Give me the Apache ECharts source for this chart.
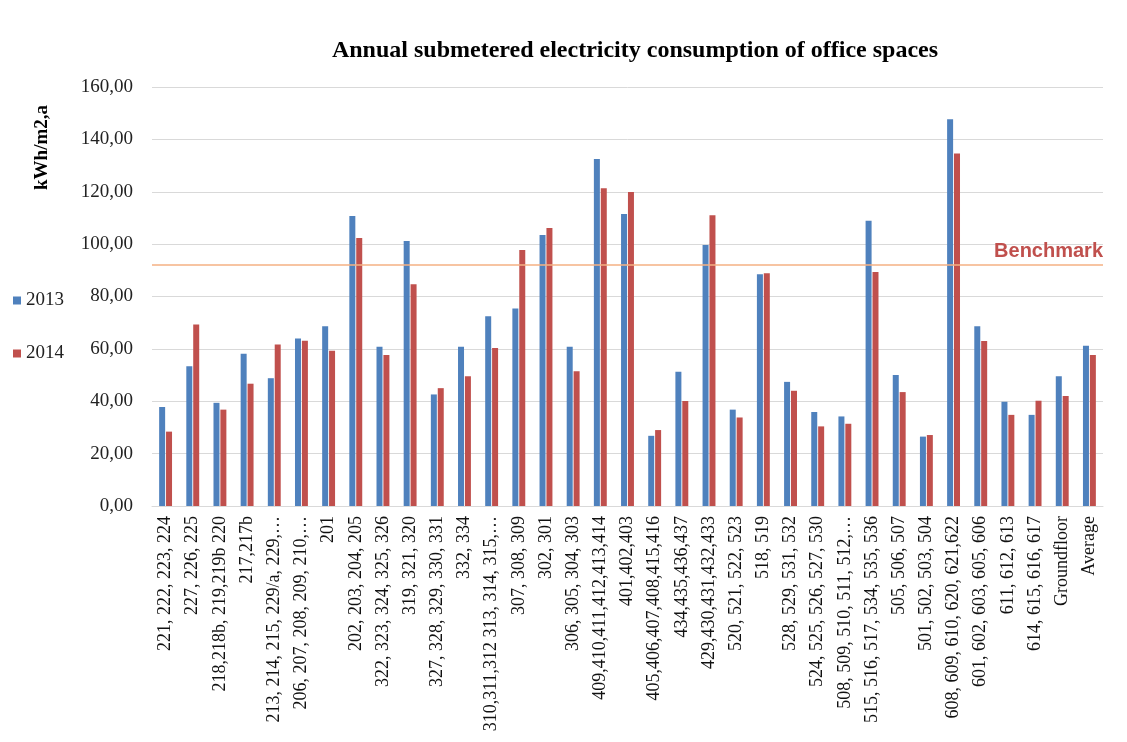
<!DOCTYPE html>
<html>
<head>
<meta charset="utf-8">
<script src="https://cdn.jsdelivr.net/npm/echarts@6/dist/echarts.min.js"></script>
<style>html,body{margin:0;padding:0;background:#fff;}#c{width:1127px;height:742px;}</style>
</head>
<body>
<div id="c"></div>
<script>
const categories = [
  "221, 222, 223, 224",
  "227, 226, 225",
  "218,218b, 219,219b 220",
  "217,217b",
  "213, 214, 215, 229/a, 229,…",
  "206, 207, 208, 209, 210,…",
  "201",
  "202, 203, 204, 205",
  "322, 323, 324, 325, 326",
  "319, 321, 320",
  "327, 328, 329, 330, 331",
  "332, 334",
  "310,311,312 313, 314, 315,…",
  "307, 308, 309",
  "302, 301",
  "306, 305, 304, 303",
  "409,410,411,412,413,414",
  "401,402,403",
  "405,406,407,408,415,416",
  "434,435,436,437",
  "429,430,431,432,433",
  "520, 521, 522, 523",
  "518, 519",
  "528, 529, 531, 532",
  "524, 525, 526, 527, 530",
  "508, 509, 510, 511, 512,…",
  "515, 516, 517, 534, 535, 536",
  "505, 506, 507",
  "501, 502, 503, 504",
  "608, 609, 610, 620, 621,622",
  "601, 602, 603, 605, 606",
  "611, 612, 613",
  "614, 615, 616, 617",
  "Groundfloor",
  "Average"
];
const values2013 = [37.8, 53.4, 39.4, 58.1, 48.8, 64.0, 68.6, 110.7, 60.8, 101.2, 42.6, 60.8, 72.5, 75.4, 103.5, 60.8, 132.5, 111.5, 26.8, 51.3, 99.7, 36.8, 88.5, 47.4, 35.9, 34.2, 108.9, 50.0, 26.5, 147.7, 68.6, 39.8, 34.8, 49.5, 61.2];
const values2014 = [28.4, 69.3, 36.8, 46.7, 61.7, 63.1, 59.3, 102.3, 57.7, 84.7, 45.0, 49.5, 60.3, 97.8, 106.2, 51.5, 121.3, 119.9, 29.0, 40.1, 111.0, 33.8, 88.9, 44.0, 30.4, 31.4, 89.4, 43.5, 27.1, 134.6, 63.0, 34.8, 40.2, 42.0, 57.7];
const benchmark = 92;
const seriesNames = ["2013", "2014"];
const yTicks = {min: 0, max: 160, interval: 20};

const serif = "'Liberation Serif', 'Times New Roman', serif";
const chart = echarts.init(document.getElementById('c'), null, {renderer: 'canvas'});
chart.setOption({
  backgroundColor: '#ffffff',
  animation: false,
  title: {
    text: 'Annual submetered electricity consumption of office spaces',
    left: 630, top: 34, textAlign: 'center',
    textStyle: {fontFamily: serif, fontWeight: 'bold', fontSize: 24, color: '#000'}
  },
  legend: {
    orient: 'vertical', left: 8, top: 286, itemGap: 34,
    icon: 'rect', itemWidth: 8, itemHeight: 8,
    textStyle: {fontFamily: serif, fontSize: 19, color: '#222'},
    data: seriesNames
  },
  grid: {left: 152, right: 24, top: 87, bottom: 236, containLabel: false},
  xAxis: {
    type: 'category', data: categories,
    axisLine: {lineStyle: {color: '#d9d9d9', width: 1}},
    axisTick: {show: false},
    axisLabel: {rotate: 90, interval: 0, margin: 10, fontFamily: serif, fontSize: 18, color: '#111'}
  },
  yAxis: {
    type: 'value', min: yTicks.min, max: yTicks.max, interval: yTicks.interval,
    axisLine: {show: false}, axisTick: {show: false},
    splitLine: {lineStyle: {color: '#d9d9d9', width: 1}},
    axisLabel: {margin: 19, fontFamily: serif, fontSize: 19, color: '#222',
      formatter: v => v.toFixed(2).replace('.', ',')}
  },
  graphic: [{
    type: 'text', left: 33, top: 105, rotation: Math.PI / 2,
    style: {text: 'kWh/m2,a', font: "bold 19px 'Liberation Serif', serif", fill: '#000'}
  }],
  series: [
    {
      name: seriesNames[0], type: 'bar', data: values2013,
      barWidth: 6, barGap: '15%',
      itemStyle: {color: '#4F81BD'},
      markLine: {
        silent: true, symbol: 'none',
        lineStyle: {color: '#F4B183', width: 1.5, type: 'solid'},
        label: {show: true, position: 'insideEndTop', formatter: 'Benchmark', distance: [0, 4],
          fontFamily: "'Liberation Sans', Arial, sans-serif", fontWeight: 'bold', fontSize: 20, color: '#C0504D'},
        data: [{yAxis: benchmark}]
      }
    },
    {
      name: seriesNames[1], type: 'bar', data: values2014,
      barWidth: 6, barGap: '15%',
      itemStyle: {color: '#C0504D'}
    }
  ]
});
</script>
</body>
</html>
